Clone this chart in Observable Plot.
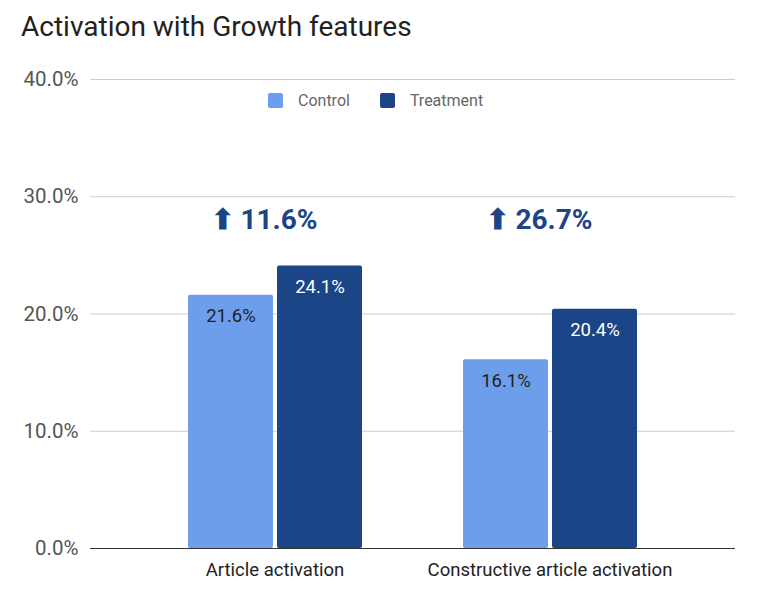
<!DOCTYPE html>
<html>
<head>
<meta charset="utf-8">
<script src="https://cdn.jsdelivr.net/npm/d3@7"></script>
<script src="https://cdn.jsdelivr.net/npm/@observablehq/plot@0.6"></script>
<style>
  body { margin: 0; background: #fff; font-family: Roboto, "Noto Sans", sans-serif; }
  #wrap { position: relative; width: 761px; height: 600px; overflow: hidden; }
  #title { position: absolute; left: 21px; top: 10px; font-size: 28px; color: #222; }
  #legend { position: absolute; left: 268px; top: 91px; display: flex; align-items: center; font-size: 16px; color: #666; }
  .sw { width: 15px; height: 15px; border-radius: 2px; margin-right: 15px; }
  .lab { margin-right: 30px; }
  .layer { position: absolute; left: 0; top: 60px; }
  .layer g[aria-label^="y-axis"] { color: #555; font-size: 20.5px; }
  .layer g[aria-label^="fx-axis"] { color: #222; font-size: 18.5px; }
</style>
</head>
<body>
<div id="wrap">
  <div id="title">Activation with Growth features</div>
  <div id="bg" class="layer"></div>
  <div id="fg" class="layer"></div>
  <div id="legend"></div>
</div>
<script>
const groups = ["Article activation", "Constructive article activation"];
const series = ["Control", "Treatment"];
const control = [21.6, 16.1];
const treatment = [24.1, 20.4];
const lifts = ["11.6%", "26.7%"];
const yTicks = [0, 10, 20, 30, 40];
const colors = ["#6d9eeb", "#1c4587"];

const rows = groups.flatMap((g, i) => [
  {group: g, series: "Control", value: control[i]},
  {group: g, series: "Treatment", value: treatment[i]}
]);
const fmt = d => d.toFixed(1) + "%";

const common = {
  width: 761,
  height: 540,
  marginLeft: 90,
  marginRight: 26,
  marginTop: 19,
  marginBottom: 52,
  style: {fontFamily: "Roboto, 'Noto Sans', sans-serif", background: "transparent"}
};

// background: gridlines, y axis, baseline across the full frame
const bg = Plot.plot({
  ...common,
  x: {axis: null},
  y: {domain: [0, 40], ticks: yTicks, tickFormat: fmt, tickSize: 0, tickPadding: 12, label: null},
  marks: [
    Plot.ruleY(yTicks.filter(d => d > 0), {stroke: "#ccc", strokeWidth: 1}),
    Plot.ruleY([0], {stroke: "#333", strokeWidth: 1.2})
  ]
});
document.getElementById("bg").appendChild(bg);

// foreground: faceted grouped bars
const fg = Plot.plot({
  ...common,
  fx: {domain: groups, paddingInner: 0.3636, paddingOuter: 0.3545, label: null, tickSize: 0, tickPadding: 14, axis: "bottom"},
  x: {domain: series, paddingInner: 0.045, paddingOuter: 0, axis: null},
  y: {domain: [0, 40], axis: null},
  color: {domain: series, range: colors},
  marks: [
    Plot.barY(rows, {fx: "group", x: "series", y: "value", fill: "series", rx: 2}),
    Plot.ruleY([0], {stroke: "#333", strokeWidth: 1.2}),
    Plot.text(rows.filter(d => d.series === "Control"), {fx: "group", x: "series", y: "value", text: d => fmt(d.value), dy: 21, fill: "#222", fontSize: 18.5}),
    Plot.text(rows.filter(d => d.series === "Treatment"), {fx: "group", x: "series", y: "value", text: d => fmt(d.value), dy: 21, fill: "#fff", fontSize: 18.5}),
    Plot.text(groups, {fx: d => d, text: (d, i) => "⬆ " + lifts[i], frameAnchor: "top", dy: 130, dx: -11, fill: "#1c4587", fontSize: 28, fontWeight: "bold"})
  ]
});
document.getElementById("fg").appendChild(fg);

const legend = document.getElementById("legend");
series.forEach((s, i) => {
  const sw = document.createElement("div");
  sw.className = "sw";
  sw.style.background = colors[i];
  const lab = document.createElement("span");
  lab.className = "lab";
  lab.textContent = s;
  legend.appendChild(sw);
  legend.appendChild(lab);
});
</script>
</body>
</html>
